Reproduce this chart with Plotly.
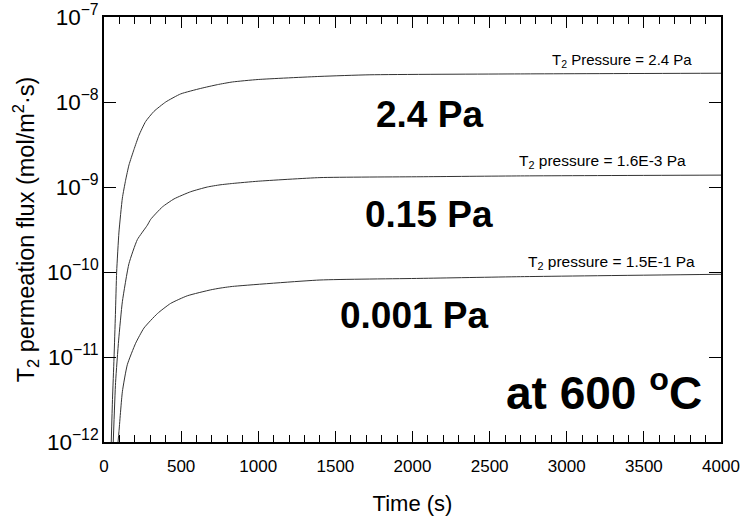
import plotly.graph_objects as go
import math

# ---- data ----
t_24 = [47, 55, 65, 74, 82, 97, 119, 140, 162, 194, 227, 270, 324, 400, 497, 627, 735, 832,
        1000, 1400, 1724, 2700, 4000]
flux_24 = [1.0e-12, 3.16e-12, 9.8e-12, 3.16e-11, 1.0e-10, 2.95e-10, 7.4e-10, 1.2e-9, 1.82e-9,
           2.75e-9, 4.07e-9, 5.9e-9, 7.76e-9, 1.0e-8, 1.245e-8, 1.445e-8, 1.6e-8, 1.72e-8,
           1.84e-8, 2.0e-8, 2.09e-8, 2.14e-8, 2.18e-8]

t_015 = [60, 75, 95, 119, 162, 216, 281, 303, 378, 454, 562, 670, 752, 832, 1000, 1400, 2049, 2700, 4000]
flux_015 = [1.0e-12, 5.0e-12, 1.58e-11, 4.47e-11, 1.26e-10, 2.4e-10, 3.55e-10, 4.17e-10, 5.82e-10,
            7.24e-10, 8.8e-10, 1.0e-9, 1.06e-9, 1.1e-9, 1.17e-9, 1.29e-9, 1.32e-9, 1.35e-9, 1.38e-9]

t_0001 = [91, 97, 119, 151, 205, 259, 346, 432, 540, 692, 752, 832, 1400, 2049, 2700, 4000]
flux_0001 = [1.0e-12, 1.32e-12, 3.9e-12, 8.1e-12, 1.45e-11, 2.19e-11, 3.24e-11, 4.27e-11,
             5.25e-11, 6.17e-11, 6.46e-11, 6.76e-11, 8.05e-11, 8.41e-11, 8.81e-11, 9.4e-11]

small_labels = ["T<sub>2</sub> Pressure = 2.4 Pa",
                "T<sub>2</sub> pressure = 1.6E-3 Pa",
                "T<sub>2</sub> pressure = 1.5E-1 Pa"]
small_pos = [(3356, 3.12e-8), (3230, 2.02e-9), (3287, 1.28e-10)]
big_labels = ["2.4 Pa", "0.15 Pa", "0.001 Pa"]
big_pos = [(2107, 7.2e-9), (2107, 4.8e-10), (2010, 3.12e-11)]
temp_label = "at 600 <sup>o</sup>C"
temp_pos = (3241, 4.1e-12)

# minor tick values on the log flux axis (2..9 x each decade)
y_decades = [-12, -11, -10, -9, -8]
y_minor_vals = [k * 10.0 ** d for d in y_decades for k in range(2, 10)]

FONT = "Arial, Liberation Sans, sans-serif"
TICK_COLOR = "black"

fig = go.Figure()
for t, f in [(t_24, flux_24), (t_015, flux_015), (t_0001, flux_0001)]:
    fig.add_trace(go.Scatter(x=t, y=f, mode="lines",
                             line=dict(color="#333333", width=1, shape="spline", smoothing=0.5),
                             showlegend=False, hoverinfo="skip"))

for i, (txt, (xx, yy)) in enumerate(zip(small_labels, small_pos)):
    fig.add_annotation(x=xx, y=math.log10(yy), xref="x", yref="y", text=txt, showarrow=False,
                       font=dict(family=FONT, size=15.5 if i else 15, color="black"))
for txt, (xx, yy) in zip(big_labels, big_pos):
    fig.add_annotation(x=xx, y=math.log10(yy), xref="x", yref="y", text="<b>" + txt + "</b>",
                       showarrow=False, font=dict(family=FONT, size=37, color="black"))
fig.add_annotation(x=temp_pos[0], y=math.log10(temp_pos[1]), xref="x", yref="y",
                   text="<b>" + temp_label + "</b>", showarrow=False,
                   font=dict(family=FONT, size=46, color="black"))

fig.update_layout(template="simple_white")
fig.update_xaxes(range=[0, 4000], dtick=500, tick0=0, ticks="inside", ticklen=11, tickwidth=1.3,
                 tickcolor=TICK_COLOR, showline=True, linecolor="black",
                 linewidth=1.5, mirror="allticks", showgrid=False, zeroline=False, automargin=False,
                 minor=dict(ticks="inside", dtick=100, ticklen=7, tickwidth=1.3, tickcolor=TICK_COLOR,
                            showgrid=False),
                 ticklabelstandoff=8,
                 tickfont=dict(family=FONT, size=17, color="black"),
                 title=dict(text="Time (s)", font=dict(family=FONT, size=22, color="black"), standoff=22))
fig.update_yaxes(type="log", range=[-12, -7], dtick=1, exponentformat="power", ticks="inside",
                 ticklen=12, tickwidth=1.3, tickcolor=TICK_COLOR, showline=True, linecolor="black",
                 linewidth=1.5, mirror="allticks", showgrid=False, zeroline=False, automargin=False,
                 tickfont=dict(family=FONT, size=18, color="black"),
                 title=dict(text="T<sub>2</sub> permeation flux (mol/m<sup>2</sup>·s)",
                            font=dict(family=FONT, size=23.5, color="black"), standoff=6))

# overlaid log axis carrying only the minor ticks (left and mirrored right)
fig.update_layout(yaxis2=dict(type="log", range=[-12, -7], overlaying="y", side="left",
                              tickmode="array", tickvals=y_minor_vals, showticklabels=False,
                              ticks="inside", ticklen=7, tickwidth=1.3, tickcolor=TICK_COLOR,
                              mirror="allticks", showline=True, linecolor="black", linewidth=1.5,
                              showgrid=False, zeroline=False, automargin=False))

fig.update_layout(width=746, height=516, margin=dict(l=104, r=25, t=17, b=74),
                  paper_bgcolor="white", plot_bgcolor="white")
fig.write_html("out.html", config={"displayModeBar": False},
               post_script="document.body.style.margin='0px';")
